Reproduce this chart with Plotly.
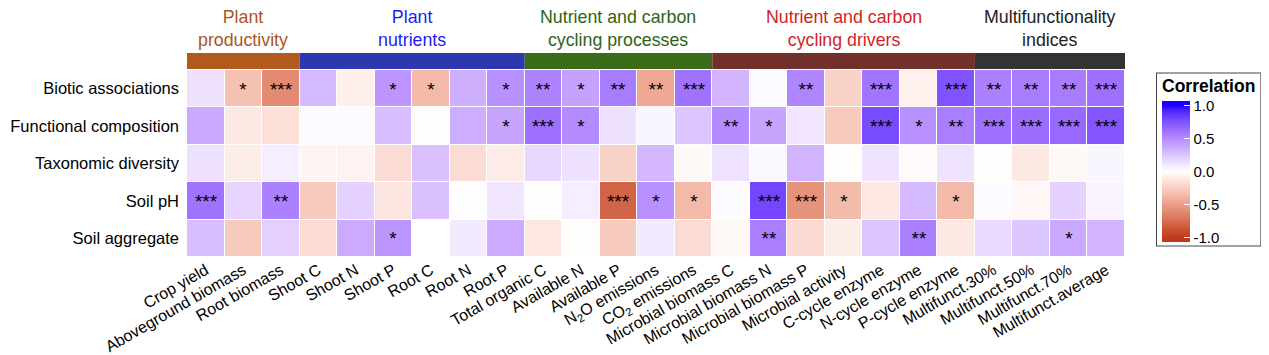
import plotly.graph_objects as go
import numpy as np

# ---------------- data ----------------
columns = ["Crop yield", "Aboveground biomass", "Root biomass",
           "Shoot C", "Shoot N", "Shoot P", "Root C", "Root N", "Root P",
           "Total organic C", "Available N", "Available P",
           "N<sub>2</sub>O emissions", "CO<sub>2</sub> emissions",
           "Microbial biomass C", "Microbial biomass N", "Microbial biomass P",
           "Microbial activity", "C-cycle enzyme", "N-cycle enzyme", "P-cycle enzyme",
           "Multifunct.30%", "Multifunct.50%", "Multifunct.70%", "Multifunct.average"]

rows = ["Biotic associations", "Functional composition", "Taxonomic diversity",
        "Soil pH", "Soil aggregate"]

biotic_associations = [0.13, -0.32, -0.60, 0.30, -0.08, 0.46, -0.36, 0.34, 0.48,
                       0.54, 0.40, 0.57, -0.45, 0.61,
                       0.32, 0.02, 0.53, -0.23, 0.60, -0.07, 0.75,
                       0.55, 0.57, 0.57, 0.62]
functional_composition = [0.37, -0.11, -0.16, 0.02, 0.02, 0.28, -0.01, 0.35, 0.39,
                          0.62, 0.50, 0.13, 0.04, 0.25,
                          0.50, 0.39, 0.11, -0.27, 0.78, 0.48, 0.56,
                          0.62, 0.63, 0.65, 0.74]
taxonomic_diversity = [0.13, -0.09, 0.07, -0.05, -0.06, -0.18, 0.27, -0.18, -0.10,
                       0.17, 0.13, -0.23, 0.31, -0.03,
                       0.12, 0.03, 0.32, -0.01, 0.12, -0.02, 0.12,
                       -0.01, -0.11, -0.03, 0.04]
soil_ph = [0.61, 0.18, 0.55, -0.27, 0.19, -0.13, 0.27, 0.01, 0.11,
           -0.01, 0.07, -0.80, 0.48, -0.36,
           0.02, 0.80, -0.56, -0.35, -0.12, 0.30, -0.36,
           0.02, -0.04, 0.19, 0.05]
soil_aggregate = [0.28, -0.27, 0.20, -0.18, 0.36, 0.46, 0.00, 0.09, 0.36,
                  -0.12, -0.01, -0.27, 0.09, -0.18,
                  -0.03, 0.56, -0.19, -0.09, 0.25, 0.55, -0.11,
                  0.16, 0.24, 0.37, 0.32]

sig_biotic = ["", "*", "***", "", "", "*", "*", "", "*",
              "**", "*", "**", "**", "***",
              "", "", "**", "", "***", "", "***",
              "**", "**", "**", "***"]
sig_functional = ["", "", "", "", "", "", "", "", "*",
                  "***", "*", "", "", "",
                  "**", "*", "", "", "***", "*", "**",
                  "***", "***", "***", "***"]
sig_taxonomic = [""] * 25
sig_ph = ["***", "", "**", "", "", "", "", "", "",
          "", "", "***", "*", "*",
          "", "***", "***", "*", "", "", "*",
          "", "", "", ""]
sig_aggregate = ["", "", "", "", "", "*", "", "", "",
                 "", "", "", "", "",
                 "", "**", "", "", "", "**", "",
                 "", "", "*", ""]

group_names = ["Plant<br>productivity", "Plant<br>nutrients",
               "Nutrient and carbon<br>cycling processes",
               "Nutrient and carbon<br>cycling drivers",
               "Multifunctionality<br>indices"]
group_sizes = [3, 6, 5, 7, 4]
group_text_colors = ["#A9561E", "#1E1EF0", "#2E6415", "#D41E1E", "#222222"]
group_band_colors = ["#B15A1E", "#2C37B0", "#3A6B17", "#72302B", "#333333"]

z = [biotic_associations, functional_composition, taxonomic_diversity, soil_ph, soil_aggregate]
sig = [sig_biotic, sig_functional, sig_taxonomic, sig_ph, sig_aggregate]

# ---------------- colour scale (Lab interpolation like ggplot gradient2) ----------------
def hex2rgb(h):
    h = h.lstrip("#")
    return np.array([int(h[i:i + 2], 16) for i in (0, 2, 4)]) / 255.0

def srgb2lin(c):
    return np.where(c <= 0.04045, c / 12.92, ((c + 0.055) / 1.055) ** 2.4)

def lin2srgb(c):
    c = np.clip(c, 0, 1)
    return np.where(c <= 0.0031308, 12.92 * c, 1.055 * c ** (1 / 2.4) - 0.055)

M = np.array([[0.4124, 0.3576, 0.1805], [0.2126, 0.7152, 0.0722], [0.0193, 0.1192, 0.9505]])
Minv = np.linalg.inv(M)
WP = np.array([0.95047, 1.0, 1.08883])

def f(t):
    return np.where(t > 0.008856, np.cbrt(t), 7.787 * t + 16 / 116)

def finv(t):
    return np.where(t > 0.206893, t ** 3, (t - 16 / 116) / 7.787)

def rgb2lab(rgb):
    xyz = M @ srgb2lin(rgb) / WP
    fx, fy, fz = f(xyz)
    return np.array([116 * fy - 16, 500 * (fx - fy), 200 * (fy - fz)])

def lab2rgb(lab):
    L, a, b = lab
    fy = (L + 16) / 116
    fx = fy + a / 500
    fz = fy - b / 200
    xyz = np.array([finv(fx), finv(fy), finv(fz)]) * WP
    return lin2srgb(Minv @ xyz)

ZLIM = 1.07
low, mid, high = rgb2lab(hex2rgb("#BE3A1E")), rgb2lab(hex2rgb("#FFFFFF")), rgb2lab(hex2rgb("#1A00FF"))
colorscale = []
n = 60
for i in range(n + 1):
    v = -ZLIM + 2 * ZLIM * i / n
    t = min(abs(v), 1.0)
    lab = mid + ((low if v < 0 else high) - mid) * t
    r, g, b = (lab2rgb(lab) * 255).round().astype(int)
    colorscale.append([i / n, f"rgb({r},{g},{b})"])

# ---------------- figure ----------------
# page body has an 8px default margin; the figure is sized to compensate
W, H = 1261, 347
L_M, T_M = 179, 62
pw, ph = 938, 187
R_M = W - L_M - pw
B_M = H - T_M - ph
FONT = "Liberation Sans, Arial"

fig = go.Figure()
fig.add_trace(go.Heatmap(
    z=z, x=list(range(len(columns))), y=list(range(len(rows))),
    text=sig, texttemplate="%{text}",
    textfont=dict(size=19, color="black", family=FONT),
    colorscale=colorscale, zmin=-ZLIM, zmax=ZLIM, xgap=1, ygap=1,
    hoverinfo="skip",
    colorbar=dict(
        title=dict(text="<b>Correlation</b>", side="top",
                   font=dict(size=17.5, color="black", family=FONT)),
        thickness=28, thicknessmode="pixels",
        len=172, lenmode="pixels",
        x=1 + 32 / pw, xanchor="left", xpad=5,
        y=(T_M + ph - (159 - 8)) / ph, yanchor="middle", ypad=3,
        tickvals=[-1, -0.5, 0, 0.5, 1], ticktext=["-1.0", "-0.5", "0.0", "0.5", "1.0"],
        ticks="inside", ticklen=6, tickcolor="white",
        tickfont=dict(size=15, color="black", family=FONT),
        outlinewidth=0, borderwidth=1, bordercolor="#444", bgcolor="white",
    ),
))

# header bands and titles
start = -0.5
for name, size, tc, bc in zip(group_names, group_sizes, group_text_colors, group_band_colors):
    end = start + size
    fig.add_shape(type="rect", xref="x", yref="paper", x0=start, x1=end,
                  y0=1 + 1 / ph, y1=1 + 17 / ph, fillcolor=bc, line=dict(width=0), layer="above")
    fig.add_annotation(x=(start + end) / 2, xref="x", y=1 + (T_M - 20) / ph, yref="paper",
                       text=name, showarrow=False, yanchor="middle",
                       font=dict(size=17.8, color=tc, family=FONT))
    start = end

fig.update_xaxes(tickvals=list(range(len(columns))), ticktext=columns, tickangle=-30,
                 tickfont=dict(size=16, color="black", family=FONT),
                 showgrid=False, zeroline=False, ticks="", range=[-0.5, len(columns) - 0.5])
fig.update_yaxes(tickvals=list(range(len(rows))), ticktext=rows, autorange=False,
                 range=[len(rows) - 0.5, -0.5],
                 tickfont=dict(size=16.5, color="black", family=FONT),
                 showgrid=False, zeroline=False, ticks="", ticklabelstandoff=7)

fig.update_layout(width=W, height=H, autosize=False,
                  margin=dict(l=L_M, r=R_M, t=T_M, b=B_M, autoexpand=False),
                  plot_bgcolor="white", paper_bgcolor="white")

fig.write_html("out.html")
